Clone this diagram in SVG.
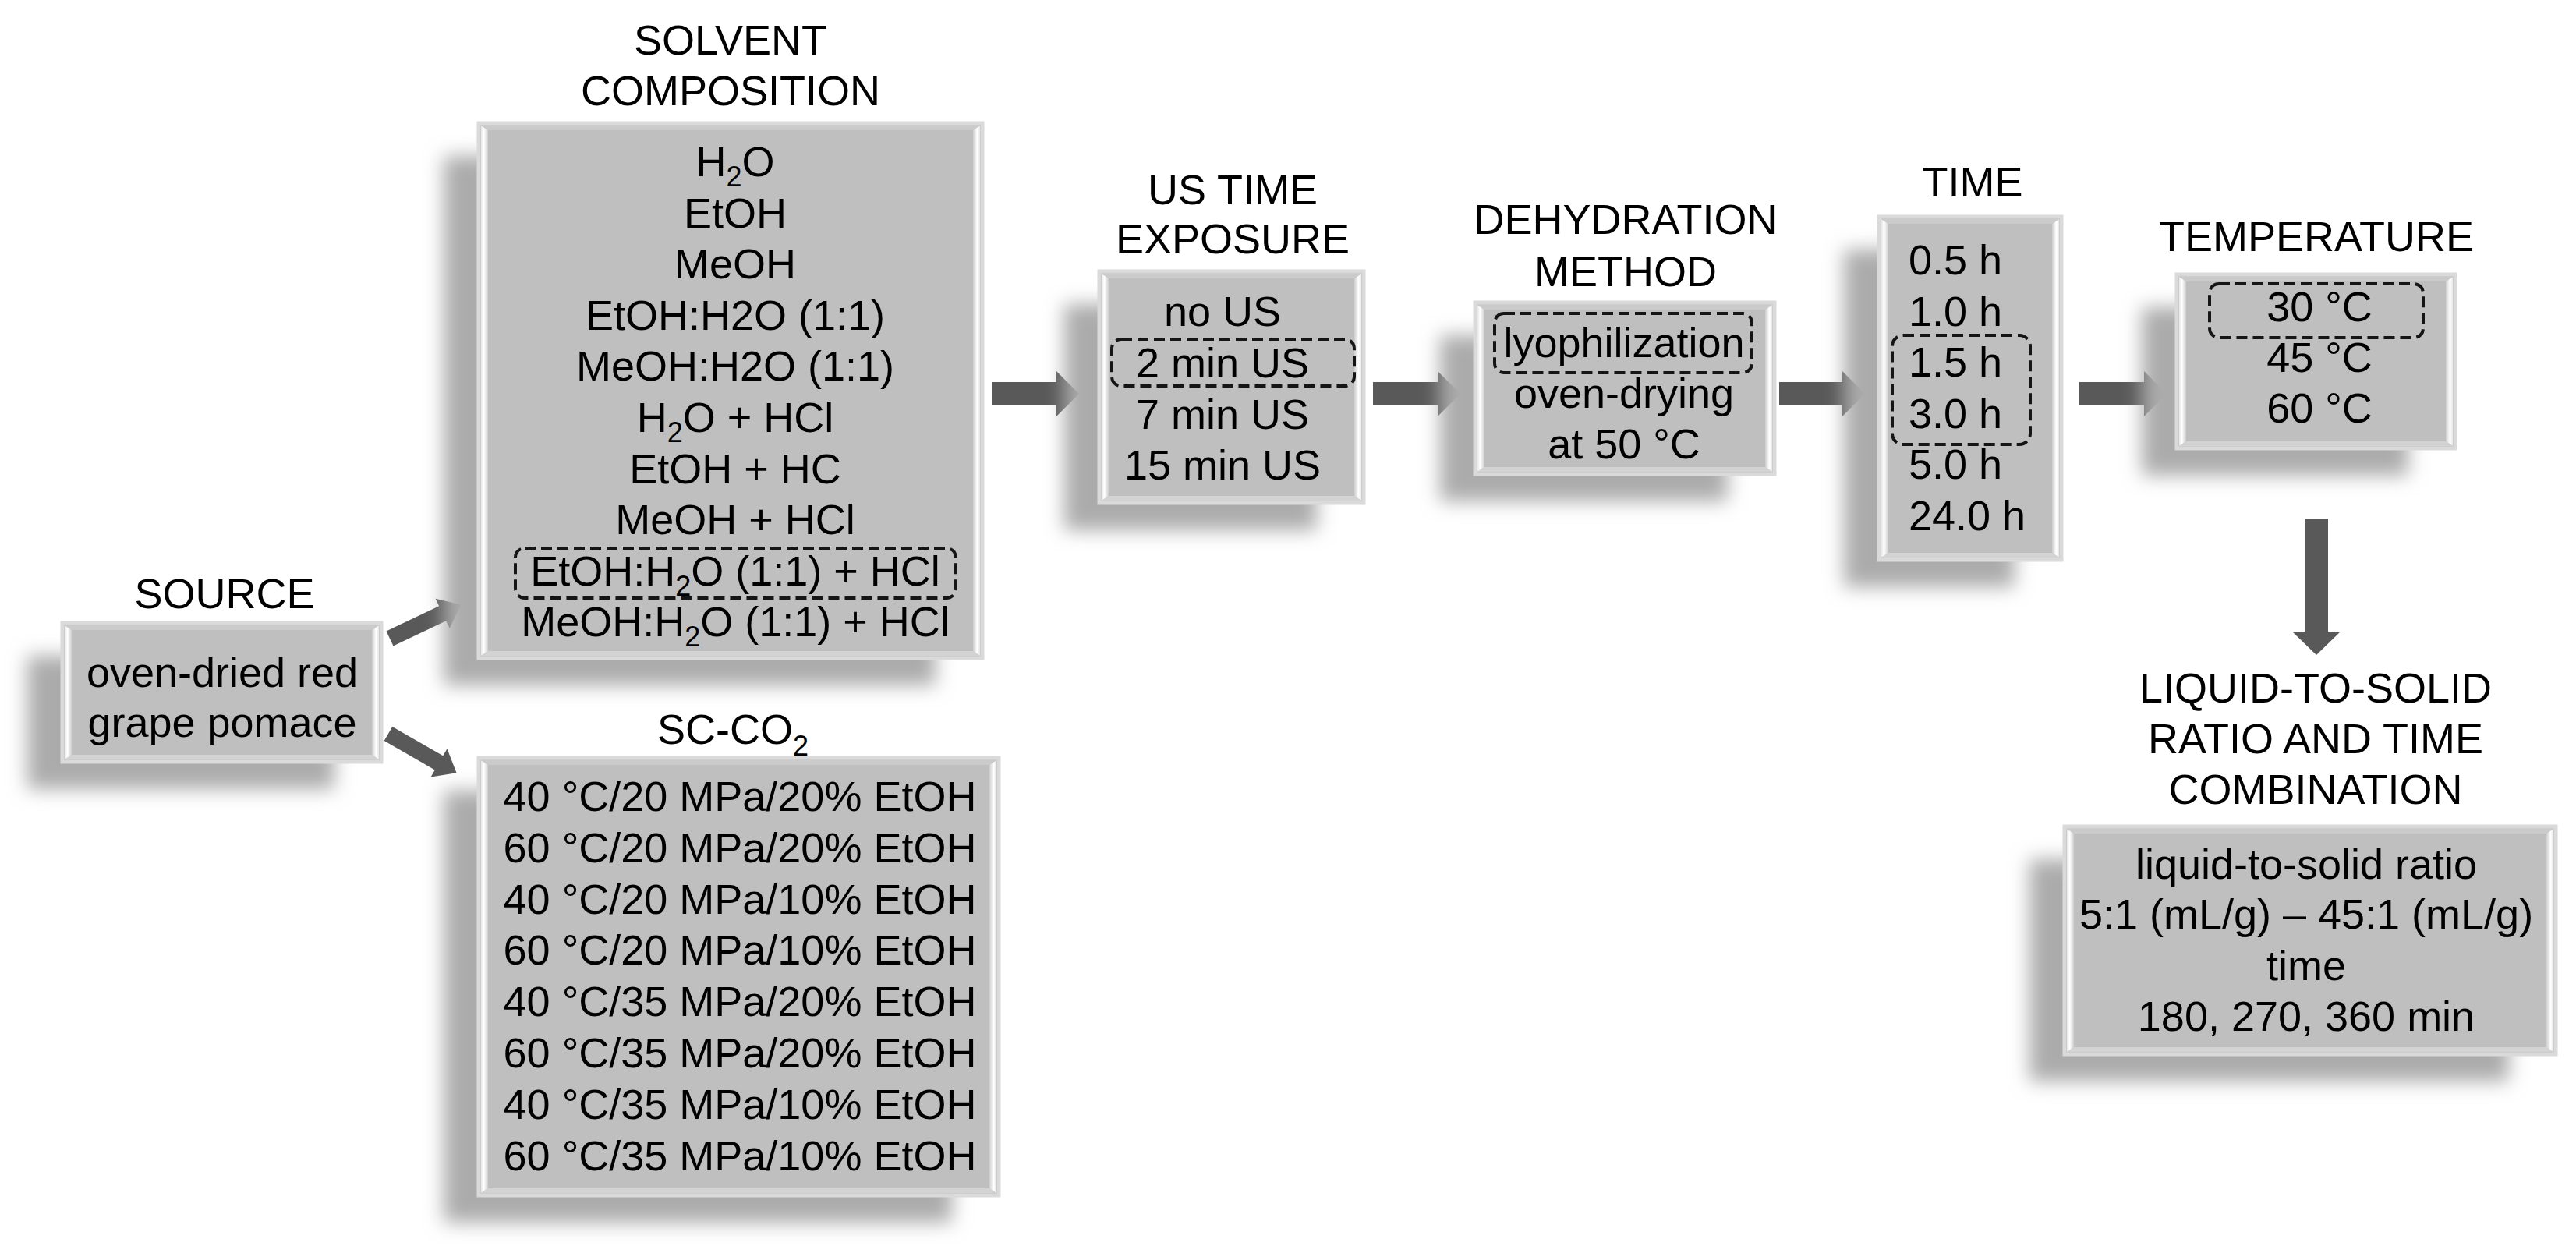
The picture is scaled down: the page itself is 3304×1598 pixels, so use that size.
<svg xmlns="http://www.w3.org/2000/svg" width="3304" height="1598" viewBox="0 0 3304 1598">
<defs>
<filter id="blur" x="-20%" y="-20%" width="140%" height="140%"><feGaussianBlur stdDeviation="12"/></filter>
<linearGradient id="gL" x1="0" y1="0" x2="1" y2="0"><stop offset="0" stop-color="#e6e6e6"/><stop offset="0.4" stop-color="#ffffff"/><stop offset="1" stop-color="#cdcdcd"/></linearGradient>
<linearGradient id="gR" x1="0" y1="0" x2="1" y2="0"><stop offset="0" stop-color="#cdcdcd"/><stop offset="0.6" stop-color="#ffffff"/><stop offset="1" stop-color="#e6e6e6"/></linearGradient>
</defs>
<style>
.sh{fill:#ababab;filter:url(#blur)}
.box{fill:#bfbfbf;stroke:#dadada;stroke-width:5}
.bl{fill:url(#gL)}
.br{fill:url(#gR)}
.bt{fill:#cbcbcb}
.bb{fill:#d3d3d3}
.t{font-family:"Liberation Sans",Arial,Helvetica,sans-serif;font-size:54px;fill:#000}
.c{text-anchor:middle}
.sub{font-size:36px}
.dash{fill:none;stroke:#151515;stroke-width:4;stroke-dasharray:14 7}
.arr{fill:#595959}
</style>
<rect width="3304" height="1598" fill="#ffffff"/>

<g id="connectors">
<polygon class="arr" transform="translate(500,819) rotate(-25.5)" points="0,-10.5 75,-10.5 75,-21 101,0 75,21 75,10.5 0,10.5"/>
<polygon class="arr" transform="translate(498,941) rotate(29.9)" points="0,-10.5 75,-10.5 75,-21 101,0 75,21 75,10.5 0,10.5"/>
<polygon class="arr" points="1272,490 1355,490 1355,476 1384,505 1355,534 1355,520 1272,520"/>
<polygon class="arr" points="1761,490 1844,490 1844,476 1873,505 1844,534 1844,520 1761,520"/>
<polygon class="arr" points="2282,490 2363,490 2363,476 2392,505 2363,534 2363,520 2282,520"/>
<polygon class="arr" points="2667,490 2750,490 2750,476 2779,505 2750,534 2750,520 2667,520"/>
<polygon class="arr" points="2956,665 2986,665 2986,810 3002,810 2971,840 2940,810 2956,810"/>
</g>

<g id="source">
<rect class="sh" x="35" y="841" width="394" height="171"/>
<rect class="box" x="80" y="799" width="409" height="178"/>
<polygon class="bl" points="83,802 92,808 92,968 83,974"/>
<polygon class="br" points="486,802 477,808 477,968 486,974"/>
<polygon class="bt" points="83,802 486,802 477,808 92,808"/>
<polygon class="bb" points="83,974 486,974 477,968 92,968"/>
<text class="t c" x="288" y="780">SOURCE</text>
<text class="t c" x="285" y="881">oven-dried red</text>
<text class="t c" x="285" y="945">grape pomace</text>
</g>

<g id="solvent">
<rect class="sh" x="569" y="200" width="631" height="679"/>
<rect class="box" x="614" y="158" width="646" height="686"/>
<polygon class="bl" points="617,161 626,167 626,835 617,841"/>
<polygon class="br" points="1257,161 1248,167 1248,835 1257,841"/>
<polygon class="bt" points="617,161 1257,161 1248,167 626,167"/>
<polygon class="bb" points="617,841 1257,841 1248,835 626,835"/>
<text class="t c" x="937" y="70">SOLVENT</text>
<text class="t c" x="937" y="135">COMPOSITION</text>
<text class="t c" x="943" y="226">H<tspan class="sub" dy="13">2</tspan><tspan dy="-13">O</tspan></text>
<text class="t c" x="943" y="292">EtOH</text>
<text class="t c" x="943" y="357">MeOH</text>
<text class="t c" x="943" y="423">EtOH:H2O (1:1)</text>
<text class="t c" x="943" y="488">MeOH:H2O (1:1)</text>
<text class="t c" x="943" y="554">H<tspan class="sub" dy="13">2</tspan><tspan dy="-13">O + HCl</tspan></text>
<text class="t c" x="943" y="620">EtOH + HC</text>
<text class="t c" x="943" y="685">MeOH + HCl</text>
<text class="t c" x="943" y="751">EtOH:H<tspan class="sub" dy="13">2</tspan><tspan dy="-13">O (1:1) + HCl</tspan></text>
<text class="t c" x="943" y="816">MeOH:H<tspan class="sub" dy="13">2</tspan><tspan dy="-13">O (1:1) + HCl</tspan></text>
<rect class="dash" x="661" y="703" width="565" height="64" rx="12"/>
</g>

<g id="scco2">
<rect class="sh" x="569" y="1014" width="652" height="554"/>
<rect class="box" x="614" y="972" width="667" height="561"/>
<polygon class="bl" points="617,975 626,981 626,1524 617,1530"/>
<polygon class="br" points="1278,975 1269,981 1269,1524 1278,1530"/>
<polygon class="bt" points="617,975 1278,975 1269,981 626,981"/>
<polygon class="bb" points="617,1530 1278,1530 1269,1524 626,1524"/>
<text class="t c" x="940" y="954">SC-CO<tspan class="sub" dy="15">2</tspan></text>
<text class="t c" x="949" y="1040">40 °C/20 MPa/20% EtOH</text>
<text class="t c" x="949" y="1106">60 °C/20 MPa/20% EtOH</text>
<text class="t c" x="949" y="1172">40 °C/20 MPa/10% EtOH</text>
<text class="t c" x="949" y="1237">60 °C/20 MPa/10% EtOH</text>
<text class="t c" x="949" y="1303">40 °C/35 MPa/20% EtOH</text>
<text class="t c" x="949" y="1369">60 °C/35 MPa/20% EtOH</text>
<text class="t c" x="949" y="1435">40 °C/35 MPa/10% EtOH</text>
<text class="t c" x="949" y="1501">60 °C/35 MPa/10% EtOH</text>
</g>

<g id="us">
<rect class="sh" x="1365" y="390" width="324" height="290"/>
<rect class="box" x="1410" y="348" width="339" height="297"/>
<polygon class="bl" points="1413,351 1422,357 1422,636 1413,642"/>
<polygon class="br" points="1746,351 1737,357 1737,636 1746,642"/>
<polygon class="bt" points="1413,351 1746,351 1737,357 1422,357"/>
<polygon class="bb" points="1413,642 1746,642 1737,636 1422,636"/>
<text class="t c" x="1581" y="262">US TIME</text>
<text class="t c" x="1581" y="325">EXPOSURE</text>
<text class="t c" x="1568" y="418">no US</text>
<text class="t c" x="1568" y="484">2 min US</text>
<text class="t c" x="1568" y="550">7 min US</text>
<text class="t c" x="1568" y="615">15 min US</text>
<rect class="dash" x="1426" y="435" width="311" height="60" rx="12"/>
</g>

<g id="dehydration">
<rect class="sh" x="1847" y="430" width="369" height="213"/>
<rect class="box" x="1892" y="388" width="384" height="220"/>
<polygon class="bl" points="1895,391 1904,397 1904,599 1895,605"/>
<polygon class="br" points="2273,391 2264,397 2264,599 2273,605"/>
<polygon class="bt" points="1895,391 2273,391 2264,397 1904,397"/>
<polygon class="bb" points="1895,605 2273,605 2264,599 1904,599"/>
<text class="t c" x="2085" y="300">DEHYDRATION</text>
<text class="t c" x="2085" y="367">METHOD</text>
<text class="t c" x="2083" y="458">lyophilization</text>
<text class="t c" x="2083" y="523">oven-drying</text>
<text class="t c" x="2083" y="588">at 50 °C</text>
<rect class="dash" x="1917" y="402" width="330" height="76" rx="12"/>
</g>

<g id="time">
<rect class="sh" x="2365" y="320" width="219" height="433"/>
<rect class="box" x="2410" y="278" width="234" height="440"/>
<polygon class="bl" points="2413,281 2422,287 2422,709 2413,715"/>
<polygon class="br" points="2641,281 2632,287 2632,709 2641,715"/>
<polygon class="bt" points="2413,281 2641,281 2632,287 2422,287"/>
<polygon class="bb" points="2413,715 2641,715 2632,709 2422,709"/>
<text class="t c" x="2530" y="252">TIME</text>
<text class="t" x="2448" y="352">0.5 h</text>
<text class="t" x="2448" y="418">1.0 h</text>
<text class="t" x="2448" y="483">1.5 h</text>
<text class="t" x="2448" y="549">3.0 h</text>
<text class="t" x="2448" y="614">5.0 h</text>
<text class="t" x="2448" y="680">24.0 h</text>
<rect class="dash" x="2427" y="430" width="177" height="140" rx="14"/>
</g>

<g id="temperature">
<rect class="sh" x="2747" y="394" width="342" height="216"/>
<rect class="box" x="2792" y="352" width="357" height="223"/>
<polygon class="bl" points="2795,355 2804,361 2804,566 2795,572"/>
<polygon class="br" points="3146,355 3137,361 3137,566 3146,572"/>
<polygon class="bt" points="2795,355 3146,355 3137,361 2804,361"/>
<polygon class="bb" points="2795,572 3146,572 3137,566 2804,566"/>
<text class="t c" x="2971" y="322">TEMPERATURE</text>
<text class="t c" x="2975" y="412">30 °C</text>
<text class="t c" x="2975" y="477">45 °C</text>
<text class="t c" x="2975" y="542">60 °C</text>
<rect class="dash" x="2834" y="364" width="274" height="69" rx="12"/>
</g>

<g id="liquid">
<rect class="sh" x="2603" y="1102" width="615" height="285"/>
<rect class="box" x="2648" y="1060" width="630" height="292"/>
<polygon class="bl" points="2651,1063 2660,1069 2660,1343 2651,1349"/>
<polygon class="br" points="3275,1063 3266,1069 3266,1343 3275,1349"/>
<polygon class="bt" points="2651,1063 3275,1063 3266,1069 2660,1069"/>
<polygon class="bb" points="2651,1349 3275,1349 3266,1343 2660,1343"/>
<text class="t c" x="2970" y="901">LIQUID-TO-SOLID</text>
<text class="t c" x="2970" y="966">RATIO AND TIME</text>
<text class="t c" x="2970" y="1031">COMBINATION</text>
<text class="t c" x="2958" y="1127">liquid-to-solid ratio</text>
<text class="t c" x="2958" y="1191">5:1 (mL/g) – 45:1 (mL/g)</text>
<text class="t c" x="2958" y="1257">time</text>
<text class="t c" x="2958" y="1322">180, 270, 360 min</text>
</g>
</svg>
